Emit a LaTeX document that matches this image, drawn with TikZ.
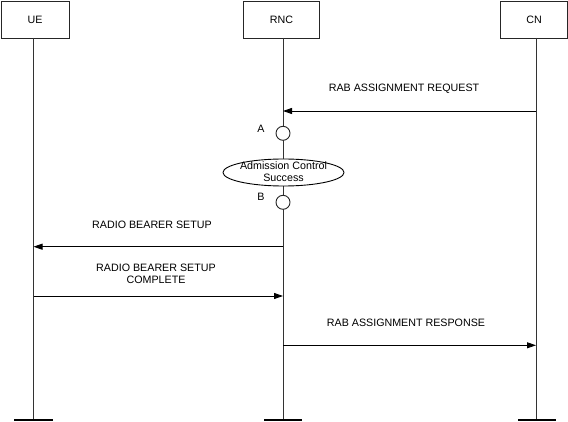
\documentclass[tikz,border=0pt]{standalone}
\usepackage{fontspec}
\setmainfont{Liberation Sans}
\usetikzlibrary{arrows.meta,shapes.geometric}
\begin{document}
\begin{tikzpicture}[x=1pt,y=-1pt,
  every node/.style={font=\fontsize{10.7}{12.2}\selectfont},
  entity/.style={draw=black!85,line width=0.9pt,fill=white,inner sep=0pt,minimum height=37pt},
  life/.style={draw=black!80,line width=0.9pt},
  endbar/.style={draw=black,line width=1.8pt},
  msg/.style={draw=black,line width=0.9pt,-{Triangle[length=9pt,width=6pt]}},
  lbl/.style={align=center,inner sep=0pt},
  state/.style={draw=black!85,line width=0.9pt,fill=white,circle,minimum size=14pt,inner sep=0pt},
  cond/.style={draw=black,line width=0.9pt,fill=white,ellipse,minimum width=121pt,minimum height=27pt,inner sep=0pt}]
\useasboundingbox (0,0) rectangle (568,422);
% entities
\node[entity,minimum width=68pt] (ue) at (35,19.5) {UE};
\node[entity,minimum width=76pt] (rnc) at (281.5,19.5) {RNC};
\node[entity,minimum width=67pt] (cn) at (534,19.5) {CN};
% lifeline coordinates
\coordinate (ueT) at (33.5,38);   \coordinate (ueB) at (33.5,420.3);
\coordinate (rncT) at (283,38);   \coordinate (rncB) at (283,420.3);
\coordinate (cnT) at (536,38);    \coordinate (cnB) at (536,420.3);
\draw[life] (ueT) -- (ueB);
\draw[life] (rncT) -- (rncB);
\draw[life] (cnT) -- (cnB);
% end bars
\coordinate (ueL) at (14,420.3); \coordinate (ueR) at (53,420.3);
\coordinate (rncL) at (264,420.3); \coordinate (rncR) at (302,420.3);
\coordinate (cnL) at (518,420.3); \coordinate (cnR) at (556,420.3);
\draw[endbar] (ueL) -- (ueR);
\draw[endbar] (rncL) -- (rncR);
\draw[endbar] (cnL) -- (cnR);
% message 1
\coordinate (m1s) at (536,111); \coordinate (m1e) at (283,111);
\draw[msg] (m1s) -- (m1e);
\node[lbl] (t1) at (404,89) {RAB ASSIGNMENT REQUEST};
% states and condition
\node[state] (sa) at (283,133.3) {};
\node[lbl] (la) at (261,129) {A};
\node[cond] (ac) at (283.5,172.5) {};
\node[lbl] (act) at (283.5,171.5) {Admission Control\\Success};
\node[state] (sb) at (283,202.3) {};
\node[lbl] (lb) at (261,197) {B};
% message 2
\coordinate (m2s) at (283,246.7); \coordinate (m2e) at (33.5,246.7);
\draw[msg] (m2s) -- (m2e);
\node[lbl] (t2) at (152,225) {RADIO BEARER SETUP};
% message 3
\coordinate (m3s) at (33.5,296); \coordinate (m3e) at (283,296);
\draw[msg] (m3s) -- (m3e);
\node[lbl] (t3) at (156,274) {RADIO BEARER SETUP\\COMPLETE};
% message 4
\coordinate (m4s) at (283,345.3); \coordinate (m4e) at (536,345.3);
\draw[msg] (m4s) -- (m4e);
\node[lbl] (t4) at (406,323) {RAB ASSIGNMENT RESPONSE};
\end{tikzpicture}
\end{document}
